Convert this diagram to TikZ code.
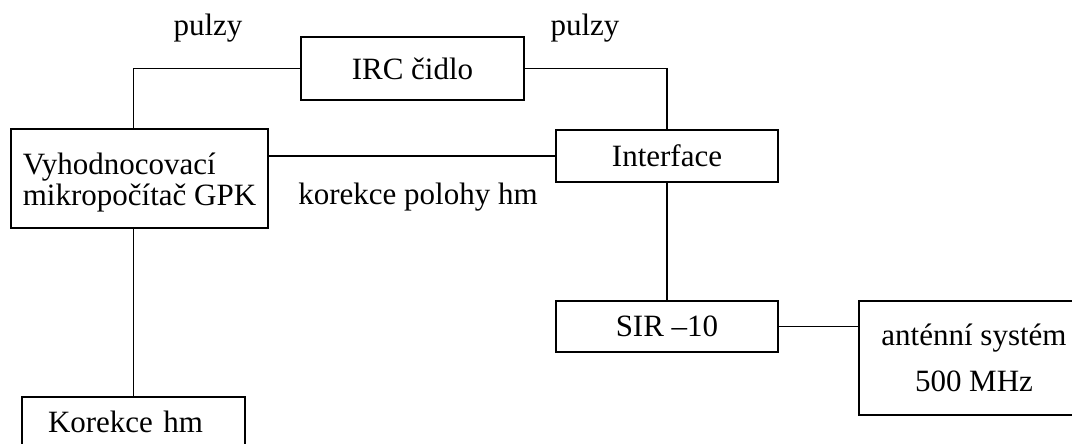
\documentclass[tikz,border=0pt]{standalone}
\usepackage{fontspec}
\setmainfont{Liberation Serif}
\begin{document}
\begin{tikzpicture}[x=1pt,y=-1pt,
  every node/.style={font=\fontsize{31}{31}\selectfont},
  blk/.style={draw,line width=1.8pt,inner sep=0pt},
  lbl/.style={inner sep=0pt},
  conn/.style={line width=1.8pt}]
\useasboundingbox (0,0) rectangle (1072,444);
\node[blk,minimum width=223,minimum height=63] (irc) at (412.5,68.5) {IRC čidlo};
\node[blk,minimum width=257,minimum height=99,align=left] (vyh) at (139.5,178.5) {\rule{0pt}{30pt}Vyhodnocovací\\mikropočítač GPK};
\node[blk,minimum width=222,minimum height=52] (intf) at (667,156) {Interface};
\node[blk,minimum width=222,minimum height=51] (sir) at (667,326.5) {SIR \textendash10};
\node[blk,minimum width=230,minimum height=114,align=center] (ant) at (974,358) {anténní systém\\[15pt]500 MHz};
\node[blk,minimum width=223,minimum height=50,text width=171,align=left] (kor) at (133.5,422) {Korekce hm};
\node[lbl] (p1) at (208,28) {pulzy};
\node[lbl] (p2) at (585,28) {pulzy};
\node[lbl] (kph) at (418,197) {korekce polohy hm};
\draw[conn] (kor.north |- vyh.north) |- (irc.west);
\draw[conn] (irc.east) -| (intf.north);
\draw[conn] (vyh.east |- intf.west) -- (intf.west);
\draw[conn] (intf.south) -- (sir.north);
\draw[conn] (sir.east) -- (sir.east -| ant.west);
\draw[conn] (kor.north |- vyh.south) -- (kor.north);
\end{tikzpicture}
\end{document}
